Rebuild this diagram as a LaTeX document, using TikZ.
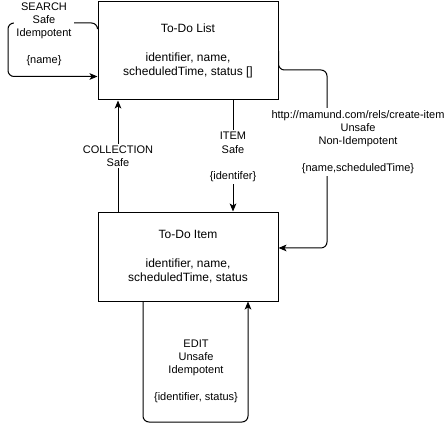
\documentclass[tikz,border=0pt]{standalone}
\usepackage{fontspec}
\setmainfont{Liberation Sans}
\usetikzlibrary{arrows.meta,positioning}

\tikzset{
  box/.style={draw, line width=0.75pt, minimum width=135pt, align=center, inner sep=0pt,
    font=\fontsize{9}{10.8}\selectfont},
  link/.style={line width=0.75pt, rounded corners=4.5pt, -{Stealth[length=6pt,width=5pt,inset=1.5pt]}},
  lbl/.style={fill=white, align=center, inner sep=1.5pt, font=\fontsize{8.25}{9.9}\selectfont}
}

\begin{document}
\begin{tikzpicture}[x=0.75pt,y=0.75pt,yscale=-1,xscale=1]
\useasboundingbox (0,0) rectangle (448,434);

%Shape: Rectangle
\node[box, minimum height=73.5pt] (list) at (188,51) {To-Do List\\[10.8pt]identifier, name,\\scheduledTime, status []};
%Shape: Rectangle
\node[box, minimum height=66.75pt] (item) at (188,256.5) {To-Do Item\\[10.8pt]identifier, name,\\scheduledTime, status};

%Connector: search
\draw[link] ([yshift=19.5pt]list.north west) |- (8,23) |- ([yshift=56.25pt]list.north west);
%Straight Lines: collection
\draw[link] ([xshift=-52.5pt]item.north) -- ([xshift=-52.5pt]list.south);
%Straight Lines: item
\draw[link] ([xshift=33.75pt]list.south) -- ([xshift=33.75pt]item.north);
%Connector: create-item
\draw[link] (list.east) |- (327,70) |- ([yshift=-6.4pt]item.east);
%Connector: edit
\draw[link] ([xshift=-33.75pt]item.south) |- (196,422) -| ([xshift=45pt]item.south);

% Text Node
\node[lbl] (searchlbl) at (44,34) {SEARCH\\Safe\\Idempotent\\[9.9pt]\{name\}};
% Text Node
\node[lbl] (collectionlbl) at (118,156) {COLLECTION\\Safe};
% Text Node
\node[lbl] (itemlbl) at (233,157) {ITEM\\Safe\\[9.9pt]\{identifer\}};
% Text Node
\node[lbl] (createlbl) at (358,142) {http://mamund.com/rels/create-item\\Unsafe\\Non-Idempotent\\[9.9pt]\{name,scheduledTime\}};
% Text Node
\node[lbl] (editlbl) at (196,371) {EDIT\\Unsafe\\Idempotent\\[9.9pt]\{identifier, status\}};

\end{tikzpicture}
\end{document}
